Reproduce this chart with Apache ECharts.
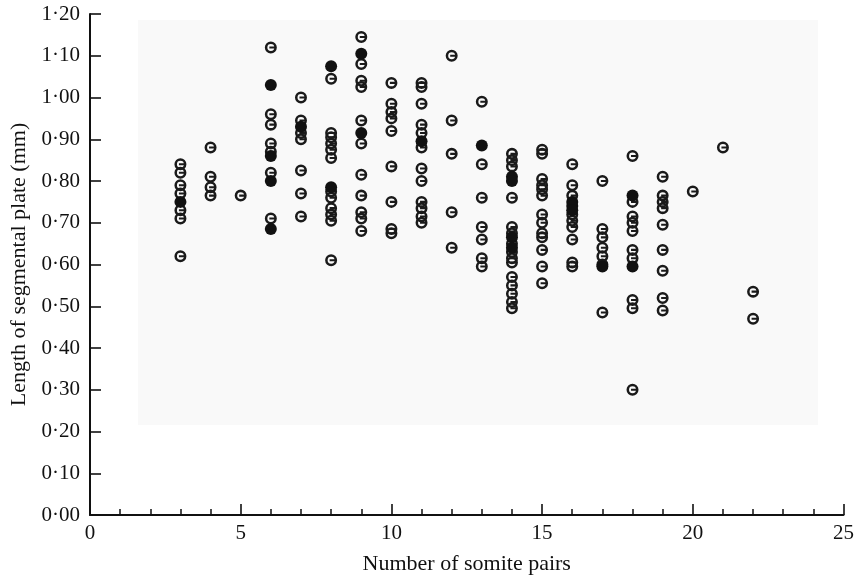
<!DOCTYPE html>
<html>
<head>
<meta charset="utf-8">
<script src="https://cdn.jsdelivr.net/npm/echarts@6/dist/echarts.min.js"></script>
<style>html,body{margin:0;padding:0;background:#fff}#c{width:857px;height:582px}</style>
</head>
<body>
<div id="c"></div>
<script>
// Open (ringed) markers: [number of somite pairs, length of segmental plate (mm)]
var openPoints = [
  [3,0.84],[3,0.82],[3,0.79],[3,0.77],[3,0.73],[3,0.71],[3,0.62],
  [4,0.88],[4,0.81],[4,0.785],[4,0.765],
  [5,0.765],
  [6,1.12],[6,0.96],[6,0.935],[6,0.89],[6,0.87],[6,0.82],[6,0.71],
  [7,1.00],[7,0.945],[7,0.915],[7,0.90],[7,0.825],[7,0.77],[7,0.715],
  [8,1.045],[8,0.915],[8,0.905],[8,0.89],[8,0.875],[8,0.855],[8,0.775],[8,0.76],[8,0.735],[8,0.72],[8,0.705],[8,0.61],
  [9,1.145],[9,1.08],[9,1.04],[9,1.025],[9,0.945],[9,0.89],[9,0.815],[9,0.765],[9,0.725],[9,0.71],[9,0.68],
  [10,1.035],[10,0.985],[10,0.965],[10,0.95],[10,0.92],[10,0.835],[10,0.75],[10,0.685],[10,0.675],
  [11,1.035],[11,1.025],[11,0.985],[11,0.935],[11,0.915],[11,0.88],[11,0.83],[11,0.80],[11,0.75],[11,0.735],[11,0.715],[11,0.70],
  [12,1.10],[12,0.945],[12,0.865],[12,0.725],[12,0.64],
  [13,0.99],[13,0.84],[13,0.76],[13,0.69],[13,0.66],[13,0.615],[13,0.595],
  [14,0.865],[14,0.85],[14,0.835],[14,0.76],[14,0.69],[14,0.675],[14,0.65],[14,0.63],[14,0.615],[14,0.605],[14,0.57],[14,0.55],[14,0.53],[14,0.51],[14,0.495],
  [15,0.875],[15,0.865],[15,0.805],[15,0.79],[15,0.78],[15,0.765],[15,0.72],[15,0.70],[15,0.675],[15,0.665],[15,0.635],[15,0.595],[15,0.555],
  [16,0.84],[16,0.79],[16,0.765],[16,0.72],[16,0.705],[16,0.69],[16,0.66],[16,0.605],[16,0.595],
  [17,0.80],[17,0.685],[17,0.665],[17,0.64],[17,0.62],[17,0.60],[17,0.485],
  [18,0.86],[18,0.75],[18,0.715],[18,0.70],[18,0.68],[18,0.635],[18,0.615],[18,0.515],[18,0.495],[18,0.30],
  [19,0.81],[19,0.765],[19,0.75],[19,0.735],[19,0.695],[19,0.635],[19,0.585],[19,0.52],[19,0.49],
  [20,0.775],
  [21,0.88],
  [22,0.535],[22,0.47]
];
// Solid (filled) markers
var filledPoints = [
  [3,0.75],
  [6,1.03],[6,0.86],[6,0.80],[6,0.685],
  [7,0.93],
  [8,1.075],[8,0.785],
  [9,1.105],[9,0.915],
  [11,0.895],
  [13,0.885],
  [14,0.81],[14,0.80],[14,0.665],[14,0.64],
  [16,0.75],[16,0.74],[16,0.73],
  [17,0.595],
  [18,0.765],[18,0.595]
];
var xTitle = 'Number of somite pairs';
var yTitle = 'Length of segmental plate (mm)';

var FONT = '"Liberation Serif", "DejaVu Serif", serif';
var ringSymbol = 'path://M0,-10 A10,10 0 1,1 0,10 A10,10 0 1,1 0,-10 Z M0,-5.8 A5.8,5.8 0 1,0 0,5.8 A5.8,5.8 0 1,0 0,-5.8 Z M-2.5,-1.7 H5.9 V1.7 H-2.5 Z';

var chart = echarts.init(document.getElementById('c'), null, {renderer: 'canvas'});
chart.setOption({
  backgroundColor: '#ffffff',
  animation: false,
  graphic: [{
    type: 'rect', silent: true, z: -10,
    shape: {x: 138, y: 20, width: 680, height: 405},
    style: {fill: '#f9f9f9'}
  }],
  grid: {left: 88, right: 12, top: 14, bottom: 67, containLabel: false},
  xAxis: {
    type: 'value', min: 0, max: 25, interval: 5,
    name: xTitle, nameLocation: 'middle', nameGap: 38,
    nameTextStyle: {fontFamily: FONT, fontSize: 22, color: '#111'},
    axisLine: {show: true, lineStyle: {color: '#111', width: 2}},
    axisTick: {show: true, inside: true, length: 11, lineStyle: {color: '#111', width: 1.6}},
    minorTick: {show: true, splitNumber: 5, length: 6, lineStyle: {color: '#111', width: 1.5}},
    axisLabel: {fontFamily: FONT, fontSize: 21, color: '#111', margin: 8},
    splitLine: {show: false}
  },
  yAxis: {
    type: 'value', min: 0, max: 1.2, interval: 0.1,
    name: yTitle, nameLocation: 'middle', nameGap: 60, nameRotate: 90,
    nameTextStyle: {fontFamily: FONT, fontSize: 22, color: '#111'},
    axisLine: {show: true, lineStyle: {color: '#111', width: 2}},
    axisTick: {show: true, inside: true, length: 11, lineStyle: {color: '#111', width: 1.6}},
    axisLabel: {fontFamily: FONT, fontSize: 21, color: '#111', margin: 10,
      formatter: function (v) { return v.toFixed(2).replace('.', '\u00b7'); }},
    splitLine: {show: false}
  },
  series: [
    {
      type: 'scatter', name: 'open', data: openPoints, z: 2,
      symbol: ringSymbol, symbolSize: 12,
      itemStyle: {color: '#1a1a1a', opacity: 1}
    },
    {
      type: 'scatter', name: 'filled', data: filledPoints, z: 3,
      symbol: 'circle', symbolSize: 12,
      itemStyle: {color: '#111', opacity: 1}
    }
  ]
});
</script>
</body>
</html>
